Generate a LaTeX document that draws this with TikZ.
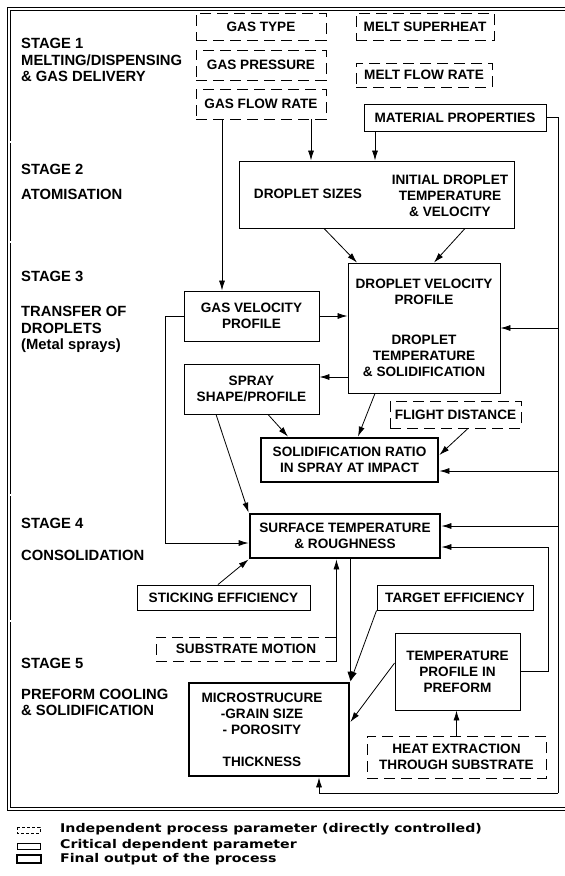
\documentclass[tikz,border=0pt]{standalone}
\usepackage{fontspec}
\usepackage{graphicx}
\setmainfont{Liberation Sans}
\newfontfamily\djv{DejaVu Sans}
\usetikzlibrary{arrows.meta,calc}
\newcommand{\bxf}{\fontsize{13.6}{16}\selectfont\bfseries}
\newcommand{\stf}{\fontsize{14.8}{16}\selectfont\bfseries}
\newcommand{\lgf}{\fontsize{12}{14}\selectfont\djv\bfseries}
\begin{document}
\begin{tikzpicture}[x=1pt,y=-1pt,
 bx/.style={draw,line width=0.9pt,align=center,inner sep=0pt,font=\bxf},
 dbx/.style={bx,dash pattern=on 11pt off 6pt},
 tbx/.style={bx,line width=2.8pt},
 txt/.style={align=center,inner sep=0pt,font=\bxf},
 arr/.style={line width=0.8pt,-{Latex[length=10pt,width=6pt]}},
 ln/.style={line width=0.8pt},
 sep/.style={line width=0.6pt,double,double distance=1.4pt},
 stg/.style={anchor=west,inner sep=0pt,font=\stf},
 lg/.style={anchor=west,inner sep=0pt,font=\lgf}]
\useasboundingbox (0,0) rectangle (565,876);
\clip (0,0) rectangle (565,876);
% frame and stage separators
\draw[line width=0.7pt,double,double distance=2pt] (9,9) rectangle (600,809);
\foreach \yy in {142,242,495,621} \draw[sep] (10,\yy) -- (600,\yy);
% stage labels
\node[stg] (s1) at (21,43) {STAGE 1};
\node[stg] (s1a) at (21,60) {MELTING/DISPENSING};
\node[stg] (s1b) at (21,76) {\& GAS DELIVERY};
\node[stg] (s2) at (21,169) {STAGE 2};
\node[stg] (s2a) at (21,194) {ATOMISATION};
\node[stg] (s3) at (21,276) {STAGE 3};
\node[stg] (s3a) at (21,311) {TRANSFER OF};
\node[stg] (s3b) at (21,328) {DROPLETS};
\node[stg] (s3c) at (21,346) {(Metal sprays)};
\node[stg] (s4) at (21,523) {STAGE 4};
\node[stg] (s4a) at (21,555) {CONSOLIDATION};
\node[stg] (s5) at (21,663) {STAGE 5};
\node[stg] (s5a) at (21,694) {PREFORM COOLING};
\node[stg] (s5b) at (21,710) {\& SOLIDIFICATION};
% boxes
\node[dbx,minimum width=130pt,minimum height=27pt] (gastype) at (261,26.5) {GAS TYPE};
\node[dbx,minimum width=138pt,minimum height=27pt] (meltsup) at (425,26.5) {MELT SUPERHEAT};
\node[dbx,minimum width=130pt,minimum height=30pt] (gaspress) at (261,65) {GAS PRESSURE};
\node[dbx,minimum width=136pt,minimum height=24pt] (meltflow) at (424,75) {MELT FLOW RATE};
\node[dbx,minimum width=130pt,minimum height=30pt] (gasflow) at (261,104) {GAS FLOW RATE};
\node[bx,minimum width=182pt,minimum height=27pt] (matprop) at (455,117.5) {MATERIAL PROPERTIES};
\node[bx,minimum width=275pt,minimum height=67pt] (atom) at (376.5,194.5) {};
\node[txt] (dsize) at (308,194) {DROPLET SIZES};
\node[txt] (idrop) at (450,195.5) {INITIAL DROPLET\\TEMPERATURE\\\& VELOCITY};
\node[bx,minimum width=152pt,minimum height=130pt] (dropvel) at (424,328) {DROPLET VELOCITY\\PROFILE\\[24pt]DROPLET\\TEMPERATURE\\\& SOLIDIFICATION};
\node[bx,minimum width=135pt,minimum height=50pt] (gasvel) at (251.5,316) {GAS VELOCITY\\PROFILE};
\node[bx,minimum width=135pt,minimum height=50pt] (spray) at (251.5,389) {SPRAY\\SHAPE/PROFILE};
\node[dbx,minimum width=131pt,minimum height=27pt] (flight) at (455.5,414.5) {FLIGHT DISTANCE};
\node[tbx,minimum width=177pt,minimum height=44pt] (solid) at (349.5,460) {SOLIDIFICATION RATIO\\IN SPRAY AT IMPACT};
\node[tbx,minimum width=190pt,minimum height=44pt] (surf) at (345,536) {SURFACE TEMPERATURE\\\& ROUGHNESS};
\node[bx,minimum width=173pt,minimum height=25pt] (stick) at (223.5,597.5) {STICKING EFFICIENCY};
\node[bx,minimum width=156pt,minimum height=25pt] (target) at (455,597.5) {TARGET EFFICIENCY};
\node[dbx,minimum width=180pt,minimum height=24pt] (submot) at (246,649) {SUBSTRATE MOTION};
\node[tbx,minimum width=160pt,minimum height=93pt] (micro) at (269,729.5) {};
\node[txt] (microtxt) at (262,729.5) {MICROSTRUCURE\\-GRAIN SIZE\\- POROSITY\\[16pt]THICKNESS};
\node[bx,minimum width=125pt,minimum height=77pt] (tempprof) at (457.5,671.5) {TEMPERATURE\\PROFILE IN\\PREFORM};
\node[dbx,minimum width=179pt,minimum height=42pt] (heat) at (456.5,757) {HEAT EXTRACTION\\THROUGH SUBSTRATE};
% connectors
\coordinate (rb) at (558,793);
\draw[arr] ([xshift=-39pt]gasflow.south) -- ([xshift=-39pt]gasflow.south |- gasvel.north);
\draw[arr] ([xshift=50pt]gasflow.south) -- ([xshift=50pt]gasflow.south |- atom.north);
\draw[arr] ([xshift=-80pt]matprop.south) -- ([xshift=-80pt]matprop.south |- atom.north);
\draw[ln] (matprop.east) -| (rb);
\draw[arr] (rb) -| ([xshift=50pt]micro.south);
\draw[arr] (dropvel.east -| rb) -- (dropvel.east);
\draw[arr] ([yshift=-11pt]solid.east -| rb) -- ([yshift=-11pt]solid.east);
\draw[arr] ([yshift=10pt]surf.east -| rb) -- ([yshift=10pt]surf.east);
\draw[arr] (tempprof.east) -- ++(28,0) |- ([yshift=-11pt]surf.east);
\draw[arr] (gasvel.east) -- (gasvel.east -| dropvel.west);
\draw[arr] (gasvel.west) -- ++(-18,0) |- ([yshift=-7pt]surf.west);
\draw[arr] ([yshift=12pt]spray.east -| dropvel.west) -- ([yshift=12pt]spray.east);
\draw[arr] ([xshift=-52.5pt]atom.south) -- ([xshift=-67pt]dropvel.north);
\draw[arr] ([xshift=88.5pt]atom.south) -- ([xshift=10pt]dropvel.north);
\draw[arr] ([xshift=-49pt]dropvel.south) -- ([xshift=8.5pt]solid.north);
\draw[arr] ([xshift=16.5pt]spray.south) -- ([xshift=-61.5pt]solid.north);
\draw[arr] ([xshift=-35.5pt]spray.south) -- (surf.north west);
\draw[arr] ([xshift=12.5pt]flight.south) -- ([yshift=5pt]solid.east);
\draw[arr] ([xshift=-5.5pt]stick.north) -- (surf.south west);
\draw[arr] (submot.south east) -- (submot.south east |- surf.south);
\draw[arr] (micro.north east |- surf.south) -- (micro.north east);
\draw[arr] (target.south west) -- (micro.north east);
\draw[arr] ([yshift=8.5pt]tempprof.west) -- ([yshift=7.5pt]micro.east);
\draw[arr] (heat.north) -- (heat.north |- tempprof.south);
% legend
\draw[line width=0.8pt,dash pattern=on 3pt off 2pt] (17,827) rectangle (40,833);
\node[lg] (lg1) at (60,829) {\scalebox{1.18}[1]{Independent process parameter (directly controlled)}};
\draw[line width=0.9pt] (17,843) rectangle (40,849);
\node[lg] (lg2) at (60,845) {\scalebox{1.18}[1]{Critical dependent parameter}};
\draw[line width=1.6pt] (17,855) rectangle (41,863);
\node[lg] (lg3) at (60,859) {\scalebox{1.18}[1]{Final output of the process}};
\end{tikzpicture}
\end{document}
